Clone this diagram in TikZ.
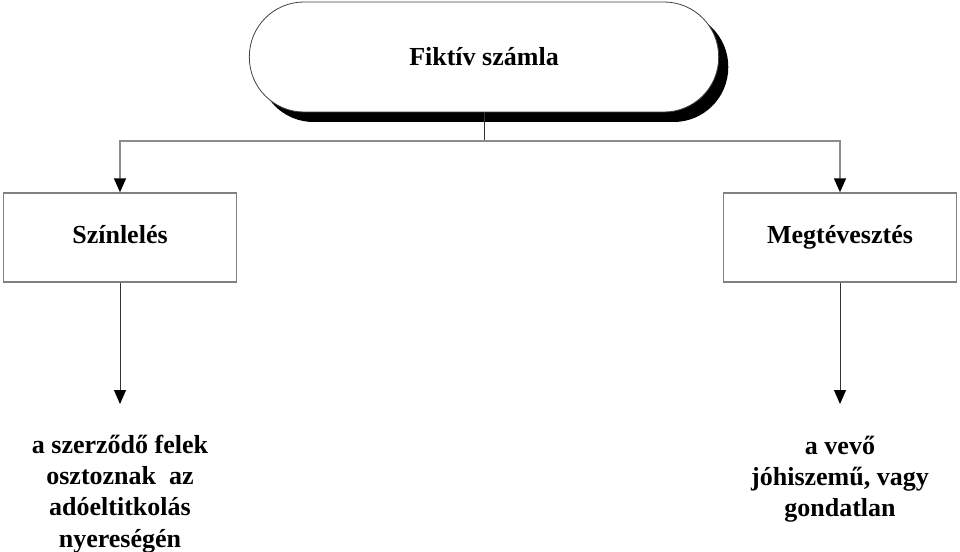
\documentclass[tikz,border=0pt]{standalone}
\usepackage{fontspec}
\setmainfont{Liberation Serif}
\usepackage{tikz}
\usetikzlibrary{arrows.meta,shadows,positioning}

\begin{document}
\begin{tikzpicture}[x=0.75pt, y=-0.75pt]
				\tikzstyle{Label}	= [font=\bfseries\fontsize{19.5pt}{23.4pt}\selectfont, align=center, inner sep=0pt]
				\tikzstyle{Title}	= [draw=black!75, line width=0.6pt, fill=white, minimum width=352pt, minimum height=82.5pt, rounded corners=41pt, drop shadow={shadow xshift=7.2pt, shadow yshift=-7.5pt, fill=black, opacity=1}]
				\tikzstyle{Box}		= [draw=black!50, line width=1.1pt, fill=white, minimum width=175pt, minimum height=66.75pt, text height=13.5pt, text depth=4.5pt]
				\tikzstyle{Stem}	= [draw=black!80, line width=0.7pt]
				\tikzstyle{Branch}	= [draw=black!45, line width=1.2pt, -{Triangle[width=9pt, length=10.5pt, black]}]
				\tikzstyle{Down}	= [draw=black!80, line width=0.7pt, -{Triangle[width=9pt, length=10.5pt, black]}]

				\useasboundingbox (0,0) rectangle (960,552);

				\node (fiktiv) at (484, 57) [Title][Label] {Fiktív számla};

				\node (szin) at (120, 237.5) [Box][Label] {Színlelés};

				\node (megt) at (840, 237.5) [Box][Label] {Megtévesztés};

				\node (szintext) at (120, 494) [Label] {a szerződő felek\\osztoznak\ \ az\\adóeltitkolás\\nyereségén};

				\node (megttext) at (840, 479) [Label] {a vevő\\jóhiszemű, vagy\\gondatlan};

				\coordinate (split) at (484, 141);
				\coordinate (szinend) at (120, 404);
				\coordinate (megtend) at (840, 404);

				\draw [Stem] (fiktiv) -- (split);
				\draw [Branch] (split) -| (szin);
				\draw [Branch] (split) -| (megt);
				\draw [Down] (szin) -- (szinend);
				\draw [Down] (megt) -- (megtend);
			\end{tikzpicture}
\end{document}
